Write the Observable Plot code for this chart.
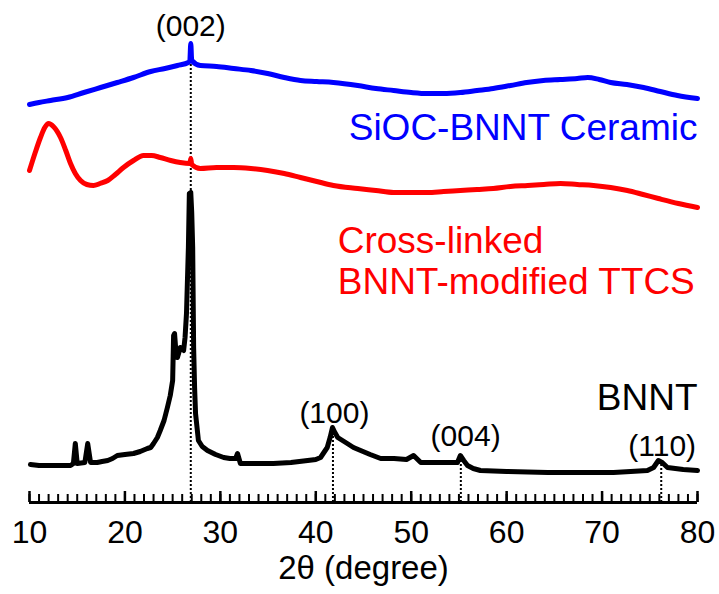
<!DOCTYPE html>
<html>
<head>
<meta charset="utf-8">
<script src="https://cdn.jsdelivr.net/npm/d3@7"></script>
<script src="https://cdn.jsdelivr.net/npm/@observablehq/plot@0.6"></script>
<style>
  html, body { margin: 0; padding: 0; background: #fff; }
</style>
</head>
<body>
<div id="chart"></div>
<script>
// 2θ (degree), intensity (a.u., offset traces)
const ceramic = [
  [10.0,398],[11.0,400],[12.2,402],[14.0,405],[15.7,410],[17.45,415],[19.2,420],[20.9,425],[22.7,431],
  [24.2,434],[25.5,437],[26.65,440],[26.8,442],[26.9,459],[27.0,442],[27.9,437],[29.6,436],[31.4,434],
  [33.2,432],[34.95,429],[36.7,425],[38.4,422],[40.1,421],[41.85,420],[44.4,417],[46.3,414],[48.15,412],
  [50.0,410],[51.7,409],[53.4,409],[55.15,410],[56.9,412],[58.6,414],[60.4,417],[62.1,420],[63.85,422],
  [65.6,423],[67.4,424],[68.5,425],[69.7,423],[70.9,420],[72.6,418],[74.35,415],[76.1,411],[77.9,407],[80.0,404]
];
const crosslinked = [
  [10.0,332],[10.6,350],[11.15,365],[11.6,375],[12.0,379],[12.5,376],[13.25,365],[13.8,352],[14.3,339],
  [14.8,329],[15.35,322],[16.0,318],[16.7,317],[17.4,319],[18.2,322],[19.0,328],[19.85,335],[20.9,342],
  [21.95,347],[22.8,347],[23.7,345],[24.8,342],[25.8,340],[26.8,339],[26.9,344],[27.0,338],[27.9,334],
  [29.6,335],[31.4,335],[33.2,334],[34.95,332],[36.7,329],[38.4,325],[40.1,321],[41.85,317],[44.4,314],
  [46.3,312],[48.15,310],[50.0,310],[51.7,310],[53.4,311],[55.15,312],[56.9,313],[58.6,314],[60.4,316],
  [62.2,317],[63.9,318],[65.65,319],[67.4,318],[69.1,317],[70.9,315],[72.65,312],[74.3,308],[75.9,304],
  [78.0,299],[80.0,295]
];
const bnnt = [
  [10.1,38],[11.0,37],[12.2,37],[13.3,37],[14.3,37],[14.6,39],[14.8,59],[15.0,39],[15.8,40],[16.1,59],
  [16.4,40],[17.1,40],[17.6,41],[18.2,42],[18.7,44],[19.2,47],[20.0,48],[20.9,49],[21.6,51],[22.35,54],
  [22.7,55],[23.0,59],[23.4,65],[23.7,72],[24.1,82],[24.45,95],[24.75,107],[25.0,122],[25.1,167],
  [25.2,169],[25.35,150],[25.5,145],[25.8,155],[26.15,152],[26.3,165],[26.45,189],[26.65,255],
  [26.75,309],[26.9,310],[27.0,290],[27.1,255],[27.2,155],[27.3,115],[27.4,89],[27.7,62],[28.1,56],
  [28.65,52],[29.5,48],[30.35,45],[31.0,44],[31.6,44],[31.8,49],[32.1,39],[33.5,39],[35.55,39],
  [37.4,40],[39.15,42],[40.0,43],[40.5,45],[41.2,55],[41.5,65],[41.75,75],[42.0,70],[42.3,65],
  [43.3,59],[43.95,55],[44.7,52],[45.7,48],[46.8,44],[48.2,44],[49.5,43],[50.25,47],[51.0,40],
  [52.5,40],[54.85,40],[55.15,47],[55.5,42],[55.9,37],[56.5,34],[57.25,32],[60.0,31],[64.3,30],
  [68.0,30],[71.2,30],[73.0,31],[74.75,32],[75.4,35],[75.9,42],[76.3,40],[76.85,35],[78.5,33],[80.0,32]
];

// Peak annotations
const peakDeg = [26.9, 41.8, 55.2, 76.2];
const peakTop = [440, 75, 47, 42];
const peakLabels = ["(002)", "(100)", "(004)", "(110)"];
const peakLabelDeg = [26.9, 41.95, 55.7, 76.3];
const peakLabelY = [476, 89, 66, 56];

// Trace labels
const traceLabels = ["SiOC-BNNT Ceramic", "Cross-linked\nBNNT-modified TTCS", "BNNT"];
const traceLabelDeg = [80, 42.3, 80];
const traceLabelY = [374, 242, 104];
const traceColors = ["#0000ff", "#ff0000", "#000000"];

const majorTicks = [10, 20, 30, 40, 50, 60, 70, 80];
const minorTicks = d3.range(10, 81, 1);

const toRows = (arr) => arr.map(([deg, i]) => ({deg, i}));
const peaks = peakDeg.map((d, k) => ({deg: d, top: peakTop[k]}));
const peakText = peakLabels.map((t, k) => ({t, deg: peakLabelDeg[k], y: peakLabelY[k]}));
const endLabels = [0, 2].map(k => ({t: traceLabels[k], deg: traceLabelDeg[k], y: traceLabelY[k], c: traceColors[k]}));

const font = "'Liberation Sans', Arial, sans-serif";

const chart = Plot.plot({
  width: 719,
  height: 594,
  marginLeft: 29,
  marginRight: 22,
  marginTop: 0,
  marginBottom: 92,
  style: {fontFamily: font, background: "#fff", color: "#000"},
  x: {domain: [10, 80]},
  y: {domain: [0, 502], axis: null},
  marks: [
    Plot.ruleX(peaks, {x: "deg", y1: 0, y2: "top", stroke: "#000", strokeWidth: 2, strokeDasharray: "2,2"}),
    Plot.line(toRows(ceramic), {x: "deg", y: "i", stroke: traceColors[0], strokeWidth: 5, curve: "monotone-x"}),
    Plot.line(toRows(crosslinked), {x: "deg", y: "i", stroke: traceColors[1], strokeWidth: 5, curve: "monotone-x"}),
    Plot.line(toRows(bnnt), {x: "deg", y: "i", stroke: traceColors[2], strokeWidth: 5, strokeLinejoin: "round"}),
    Plot.text(peakText, {x: "deg", y: "y", text: "t", fontSize: 30, fill: "#000", lineAnchor: "middle"}),
    Plot.text(endLabels, {x: "deg", y: "y", text: "t", fill: d => d.c, fontSize: 37, textAnchor: "end", lineAnchor: "middle"}),
    Plot.text([{t: traceLabels[1], deg: traceLabelDeg[1], y: traceLabelY[1]}],
      {x: "deg", y: "y", text: "t", fill: traceColors[1], fontSize: 37, textAnchor: "start", lineAnchor: "middle", lineHeight: 1.11}),
    Plot.ruleY([0], {stroke: "#000", strokeWidth: 3}),
    Plot.axisX({ticks: minorTicks, tickSize: -8, strokeWidth: 2, tickFormat: () => "", label: null}),
    Plot.axisX({ticks: majorTicks, tickSize: -11, strokeWidth: 2.5, tickPadding: 29, fontSize: 32,
      tickFormat: d3.format("d"), label: "2θ (degree)", labelAnchor: "center", labelArrow: "none", labelOffset: 76})
  ]
});

chart.querySelectorAll("[aria-label='x-axis label'] text, [aria-label='x-axis label']").forEach(el => el.setAttribute("font-size", "33"));
document.getElementById("chart").appendChild(chart);
</script>
</body>
</html>
